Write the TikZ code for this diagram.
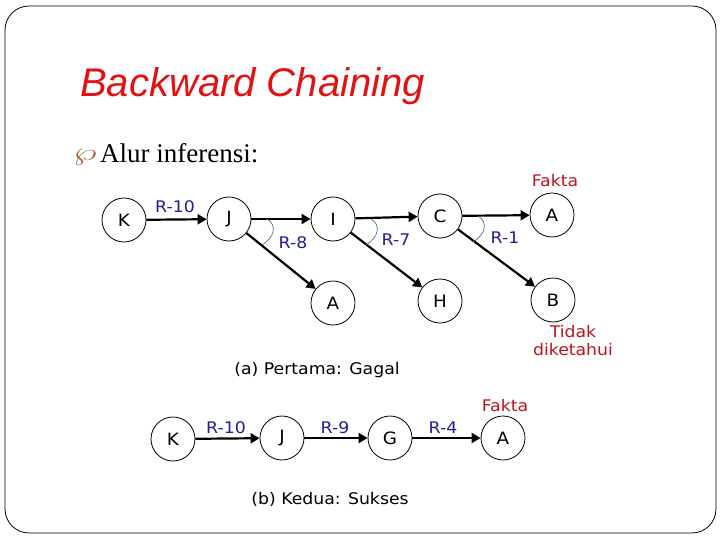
\documentclass[tikz,border=0pt]{standalone}
\usepackage{fontspec}
\setmainfont{Liberation Serif}
\newfontfamily\verd[FakeStretch=1.08]{DejaVu Sans}
\newfontfamily\arialf{Liberation Sans}
\usetikzlibrary{arrows.meta,calc}
\definecolor{titlered}{RGB}{226,18,18}
\definecolor{factred}{RGB}{190,20,30}
\definecolor{rulecol}{RGB}{30,30,150}
\definecolor{arccol}{RGB}{60,125,110}
\definecolor{bulletcol}{RGB}{176,96,58}
\tikzset{
  state/.style={circle,draw,line width=0.8pt,minimum size=44pt,inner sep=0pt,font=\verd\fontsize{17}{17}\selectfont},
  arr/.style={line width=2.2pt,-{Triangle[length=9pt,width=10pt]}},
  rulelbl/.style={text=rulecol,inner sep=0pt,font=\verd\fontsize{16}{16}\selectfont},
  factlbl/.style={text=factred,inner sep=0pt,align=center,font=\verd\fontsize{16}{18}\selectfont},
  caption/.style={inner sep=0pt,font=\verd\fontsize{16}{16}\selectfont},
  arcmark/.style={draw=arccol,line width=0.7pt}
}
\newcommand{\andmark}[1]{\draw[arcmark] ($(#1)+(38,0)$) .. controls ($(#1)+(48,6)$) and ($(#1)+(46,18)$) .. ($(#1)+(33,26)$);}
\begin{document}
\begin{tikzpicture}[x=1pt,y=-1pt]
\useasboundingbox (0,0) rectangle (720,540);
\draw[line width=0.8pt,rounded corners=24pt] (5,6) rectangle (716,533);
% title
\node[anchor=base west,inner sep=0pt,text=titlered,font=\arialf\itshape\fontsize{40}{40}\selectfont] (title) at (80,97) {Backward Chaining};
\node[anchor=base,inner sep=0pt,text=bulletcol,xscale=1.5,font=\fontsize{24}{24}\selectfont] (bul) at (85,161) {$\wp$};
\node[anchor=base west,inner sep=0pt,font=\fontsize{27}{27}\selectfont] (alur) at (100,163) {Alur inferensi:};
% diagram (a)
\node[state] (K1) at (124,220) {K};
\node[state] (J1) at (229,219) {J};
\node[state] (I1) at (333,219) {I};
\node[state] (C1) at (440,216) {C};
\node[state] (A1) at (552,215) {A};
\node[state] (A2) at (333,303) {A};
\node[state] (H1) at (440,301) {H};
\node[state] (B1) at (553,300) {B};
\draw[arr] (K1) -- (J1);
\draw[arr] (J1) -- (I1);
\draw[arr] (I1) -- (C1);
\draw[arr] (C1) -- (A1);
\draw[arr] (J1) -- (A2);
\draw[arr] (I1) -- (H1);
\draw[arr] (C1) -- (B1);
\andmark{J1}
\andmark{I1}
\andmark{C1}
\node[rulelbl] (r10a) at (175,207) {R-10};
\node[rulelbl] (r8) at (293,243) {R-8};
\node[rulelbl] (r7) at (396,240) {R-7};
\node[rulelbl] (r1) at (505,238) {R-1};
\node[factlbl] (fakta1) at (555,181) {Fakta};
\node[factlbl] (tidak) at (573,341) {Tidak\\diketahui};
\node[caption] (capa) at (317,370) {(a) Pertama: Gagal};
% diagram (b)
\node[state] (K2) at (173,439) {K};
\node[state] (J2) at (282,438) {J};
\node[state] (G2) at (390,438) {G};
\node[state] (A3) at (503,438) {A};
\draw[arr] (K2) -- (J2);
\draw[arr] (J2) -- (G2);
\draw[arr] (G2) -- (A3);
\node[rulelbl] (r10b) at (226,428) {R-10};
\node[rulelbl] (r9) at (335,428) {R-9};
\node[rulelbl] (r4) at (443,428) {R-4};
\node[factlbl] (fakta2) at (505,406) {Fakta};
\node[caption] (capb) at (330,499) {(b) Kedua: Sukses};
\end{tikzpicture}
\end{document}
